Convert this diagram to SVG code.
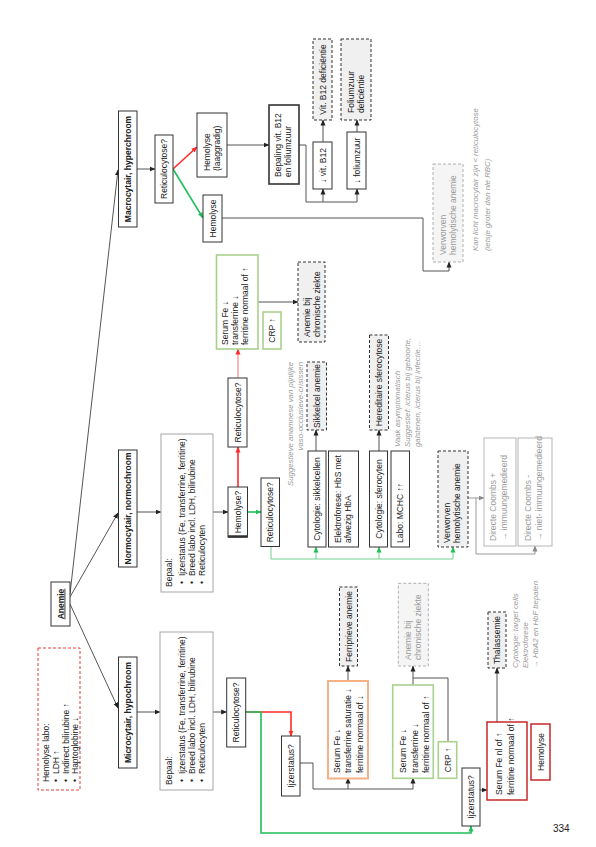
<svg xmlns="http://www.w3.org/2000/svg" width="596" height="847" viewBox="0 0 596 847">
<style>
.t{font-family:"Liberation Sans",Arial,sans-serif;font-size:8.5px;fill:#222}
.bd{font-weight:bold}
.gt{fill:#9a9a9a}
.nt{font-family:"Liberation Sans",Arial,sans-serif;font-size:7.8px;font-style:italic;fill:#9a9a9a}
.bx{fill:#fff;stroke:#333;stroke-width:1}
.bg{fill:#fff;stroke:#a6a6a6;stroke-width:1}
.dsh{fill:#f0f0f0;stroke:#333;stroke-width:1;stroke-dasharray:3 2}
.dshl{fill:#f5f5f5;stroke:#b0b0b0;stroke-width:1;stroke-dasharray:3 2}
.gb{fill:#fff;stroke:#a9d18e;stroke-width:1.6}
.ob{fill:#fff;stroke:#f4b183;stroke-width:2}
.rb{fill:#fff;stroke:#c62828;stroke-width:1.5}
.gl{fill:#fff;stroke:#b5b5b5;stroke-width:1}
.c{fill:none;stroke:#555;stroke-width:1}
.cg{fill:none;stroke:#9a9a9a;stroke-width:1}
.cr{fill:none;stroke:#ff2a2a;stroke-width:1.6}
.crl{fill:none;stroke:#f27070;stroke-width:1}
.cgr{fill:none;stroke:#1fbf5a;stroke-width:1.6}
.cgl{fill:none;stroke:#72cf8e;stroke-width:1}
</style>
<defs>
<marker id="ak" markerUnits="userSpaceOnUse" markerWidth="6" markerHeight="6" refX="5.5" refY="3" orient="auto"><path d="M0,0.5 L6,3 L0,5.5 z" fill="#222"/></marker>
<marker id="ar" markerUnits="userSpaceOnUse" markerWidth="6" markerHeight="6" refX="5.5" refY="3" orient="auto"><path d="M0,0.5 L6,3 L0,5.5 z" fill="#ff2a2a"/></marker>
<marker id="ag" markerUnits="userSpaceOnUse" markerWidth="6" markerHeight="6" refX="5.5" refY="3" orient="auto"><path d="M0,0.5 L6,3 L0,5.5 z" fill="#1fbf5a"/></marker>
<marker id="agr" markerUnits="userSpaceOnUse" markerWidth="6" markerHeight="6" refX="5.5" refY="3" orient="auto"><path d="M0,0.5 L6,3 L0,5.5 z" fill="#888"/></marker>
</defs>

<g id="connectors">
<path class="c" d="M70,594 L118,170" marker-end="url(#ak)"/>
<path class="c" d="M70,597 L118,513" marker-end="url(#ak)"/>
<path class="c" d="M70,604 L118,708" marker-end="url(#ak)"/>
<path class="c" d="M137,169 H155" marker-end="url(#ak)"/>
<path class="c" d="M137,512 H161" marker-end="url(#ak)"/>
<path class="c" d="M137,712 H160" marker-end="url(#ak)"/>
<path class="cr" d="M173,169 L197,147" marker-end="url(#ar)"/>
<path class="cgr" d="M173,169 L203,218" marker-end="url(#ag)"/>
<path class="c" d="M227,145 H269" marker-end="url(#ak)"/>
<path class="c" d="M299,145 H306 V202 H357 V189" marker-end="url(#ak)"/>
<path class="c" d="M323,202 V189" marker-end="url(#ak)"/>
<path class="c" d="M323,142 V120" marker-end="url(#ak)"/>
<path class="c" d="M357,132 V120" marker-end="url(#ak)"/>
<path class="c" d="M222,218 H423 V271 H449 V262" marker-end="url(#ak)"/>
<path class="c" d="M213,512 H228" marker-end="url(#ak)"/>
<path class="cr" d="M238,487 V447" marker-end="url(#ar)"/>
<path class="crl" d="M238,378 V349" marker-end="url(#ar)"/>
<path class="c" d="M258,302 H298" marker-end="url(#ak)"/>
<path class="cgr" d="M248,512 H261" marker-end="url(#ag)"/>
<path class="cgl" d="M271,547 V559 H453 V547" marker-end="url(#ag)"/>
<path class="cgl" d="M316,559 V547" marker-end="url(#ag)"/>
<path class="cgl" d="M379,559 V547" marker-end="url(#ag)"/>
<path class="c" d="M316,451 V430" marker-end="url(#ak)"/>
<path class="c" d="M379,451 V430" marker-end="url(#ak)"/>
<path class="cg" d="M468,498 H484" marker-end="url(#agr)"/>
<path class="cg" d="M476,498 V554 H535 V546" marker-end="url(#agr)"/>
<path class="c" d="M213,712 H226.7" marker-end="url(#ak)"/>
<path class="cr" d="M246,712 H291 V736" marker-end="url(#ar)"/>
<path class="cgr" d="M246,712 H261 V833 H471 V826" marker-end="url(#ag)"/>
<path class="c" d="M300,763 H313 V789 H413 V778" marker-end="url(#ak)"/>
<path class="c" d="M348,789 V778" marker-end="url(#ak)"/>
<path class="c" d="M348,681 V666" marker-end="url(#ak)"/>
<path class="c" d="M413,685 V666" marker-end="url(#ak)"/>
<path class="c" d="M448,742 V678 H413"/>
<path class="c" d="M480,790 H487" marker-end="url(#ak)"/>
<path class="c" d="M497,722 V668" marker-end="url(#ak)"/>
</g>

<g id="n-hemolabo">
<rect x="38" y="648" width="42" height="142" fill="#fff" stroke="#e03c3c" stroke-dasharray="3 2"/>
<text class="t" transform="translate(49,782) rotate(-90)">Hemolyse labo:</text>
<text class="t" transform="translate(59,782) rotate(-90)">•</text><text class="t" transform="translate(59,774) rotate(-90)">LDH ↑</text>
<text class="t" transform="translate(68.5,782) rotate(-90)">•</text><text class="t" transform="translate(68.5,774) rotate(-90)">Indirect bilirubine ↑</text>
<text class="t" transform="translate(78,782) rotate(-90)">•</text><text class="t" transform="translate(78,774) rotate(-90)">Haptoglobine ↓</text>
</g>

<g id="n-anemie">
<rect class="bx" x="51" y="582" width="19" height="44"/>
<text class="t bd" transform="translate(63.5,604) rotate(-90)" text-anchor="middle" text-decoration="underline">Anemie</text>
</g>

<g id="n-macro">
<rect class="bx" x="118.5" y="111" width="18.5" height="116"/>
<text class="t bd" transform="translate(130.8,169) rotate(-90)" text-anchor="middle">Macrocytair, hyperchroom</text>
</g>
<g id="n-normo">
<rect class="bx" x="118.5" y="450" width="18.5" height="117"/>
<text class="t bd" transform="translate(130.8,508.5) rotate(-90)" text-anchor="middle">Normocytair, normochroom</text>
</g>
<g id="n-micro">
<rect class="bx" x="118.5" y="657" width="18.5" height="111"/>
<text class="t bd" transform="translate(130.8,712.5) rotate(-90)" text-anchor="middle">Microcytair, hypochroom</text>
</g>

<g id="n-macro-retic">
<rect class="bx" x="155" y="135" width="18" height="68"/>
<text class="t" transform="translate(167,169) rotate(-90)" text-anchor="middle">Reticulocytose?</text>
</g>
<g id="n-macro-hemolyse-laag">
<rect class="bx" x="197" y="113" width="30" height="64"/>
<text class="t" transform="translate(209.5,171) rotate(-90)">Hemolyse</text>
<text class="t" transform="translate(219.5,171) rotate(-90)">(laaggradig)</text>
</g>
<g id="n-macro-hemolyse">
<rect class="bx" x="203" y="195" width="19" height="47"/>
<text class="t" transform="translate(215.5,218.5) rotate(-90)" text-anchor="middle">Hemolyse</text>
</g>
<g id="n-bepaling-b12">
<rect x="269" y="105" width="30" height="79" fill="#fff" stroke="#333" stroke-width="1.6"/>
<text class="t" transform="translate(281,177) rotate(-90)">Bepaling vit. B12</text>
<text class="t" transform="translate(291,177) rotate(-90)">en foliumzuur</text>
</g>
<g id="n-vitb12">
<rect class="bx" x="313" y="142" width="19" height="47"/>
<text class="t" transform="translate(325.5,165.5) rotate(-90)" text-anchor="middle">↓ vit. B12</text>
</g>
<g id="n-folium">
<rect class="bx" x="347" y="132" width="19" height="57"/>
<text class="t" transform="translate(359.5,160.5) rotate(-90)" text-anchor="middle">↓ foliumzuur</text>
</g>
<g id="n-vitb12-def">
<rect class="dsh" x="313" y="39" width="19" height="81"/>
<text class="t" transform="translate(325.5,79.5) rotate(-90)" text-anchor="middle">Vit. B12 deficiëntie</text>
</g>
<g id="n-folium-def">
<rect class="dsh" x="341" y="39" width="30" height="81"/>
<text class="t" transform="translate(354,113) rotate(-90)">Foliumzuur</text>
<text class="t" transform="translate(364,113) rotate(-90)">deficiëntie</text>
</g>
<g id="n-macro-verworven">
<rect class="dshl" x="433" y="164" width="30" height="98"/>
<text class="t gt" transform="translate(446,255) rotate(-90)">Verworven</text>
<text class="t gt" transform="translate(456,255) rotate(-90)">hemolytische anemie</text>
</g>
<g id="note-macro">
<text class="nt" transform="translate(478,251) rotate(-90)">Kan licht macrocytair zijn &lt; reticulocytose</text>
<text class="nt" transform="translate(489.5,251) rotate(-90)">(ietsje groter dan nle RBC)</text>
</g>

<g id="n-normo-bepaal">
<rect class="bg" x="161" y="434" width="52" height="158"/>
<text class="t" transform="translate(171.5,587) rotate(-90)">Bepaal:</text>
<text class="t" transform="translate(184.5,584) rotate(-90)">•</text><text class="t" transform="translate(184.5,576) rotate(-90)">Ijzerstatus (Fe, transferrine, ferritine)</text>
<text class="t" transform="translate(194.5,584) rotate(-90)">•</text><text class="t" transform="translate(194.5,576) rotate(-90)">Breed labo incl. LDH, bilirubine</text>
<text class="t" transform="translate(204.5,584) rotate(-90)">•</text><text class="t" transform="translate(204.5,576) rotate(-90)">Reticulocyten</text>
</g>
<g id="n-normo-hemolyse">
<rect class="bx" x="228" y="487" width="19.5" height="50"/>
<line x1="228" y1="536.5" x2="247.5" y2="536.5" stroke="#333" stroke-width="2.5"/>
<text class="t" transform="translate(240.8,512) rotate(-90)" text-anchor="middle">Hemolyse?</text>
</g>
<g id="n-normo-retic-red">
<rect class="bx" x="228" y="378" width="19" height="69"/>
<text class="t" transform="translate(240.5,412.5) rotate(-90)" text-anchor="middle">Reticulocytose?</text>
</g>
<g id="n-normo-serum">
<rect class="gb" x="216.5" y="255" width="41.5" height="94"/>
<text class="t" transform="translate(228,345) rotate(-90)">Serum Fe ↓</text>
<text class="t" transform="translate(238,345) rotate(-90)">transferrine ↓</text>
<text class="t" transform="translate(248,345) rotate(-90)">ferritine normaal of ↑</text>
</g>
<g id="n-normo-crp">
<rect class="gb" x="263" y="312" width="18" height="37"/>
<text class="t" transform="translate(275,330.5) rotate(-90)" text-anchor="middle">CRP ↑</text>
</g>
<g id="n-normo-acz">
<rect class="dsh" x="298" y="262" width="27" height="80"/>
<text class="t" transform="translate(309.5,337) rotate(-90)">Anemie bij</text>
<text class="t" transform="translate(319.5,337) rotate(-90)">chronische ziekte</text>
</g>
<g id="n-normo-retic-green">
<rect class="bx" x="261" y="478" width="18.5" height="68.5"/>
<text class="t" transform="translate(273.3,512.3) rotate(-90)" text-anchor="middle">Reticulocytose?</text>
</g>
<g id="n-sikkel-cyto">
<rect class="bx" x="308" y="451" width="18" height="96"/>
<text class="t" transform="translate(320,499) rotate(-90)" text-anchor="middle">Cytologie: sikkelcellen</text>
</g>
<g id="n-elektro">
<rect class="bx" x="328.5" y="451" width="30" height="96"/>
<text class="t" transform="translate(340.5,543) rotate(-90)">Elektroforese: HbS met</text>
<text class="t" transform="translate(351,543) rotate(-90)">afwezig HbA</text>
</g>
<g id="n-sfero-cyto">
<rect class="bx" x="369.5" y="451" width="18" height="96"/>
<text class="t" transform="translate(381.5,499) rotate(-90)" text-anchor="middle">Cytologie: sferocyten</text>
</g>
<g id="n-mchc">
<rect class="bx" x="391" y="451" width="18.5" height="96"/>
<text class="t" transform="translate(403.3,543) rotate(-90)">Labo: MCHC ↑↑</text>
</g>
<g id="n-normo-verworven">
<rect class="dsh" x="438" y="451" width="30" height="96"/>
<text class="t" transform="translate(450,543) rotate(-90)">Verworven</text>
<text class="t" transform="translate(460,543) rotate(-90)">hemolytische anemie</text>
</g>
<g id="n-sikkel">
<rect class="dsh" x="307" y="362" width="19.5" height="68"/>
<text class="t" transform="translate(319.8,396) rotate(-90)" text-anchor="middle">Sikkelcel anemie</text>
</g>
<g id="n-sfero">
<rect class="dsh" x="369.5" y="335" width="19" height="95"/>
<text class="t" transform="translate(382,382.5) rotate(-90)" text-anchor="middle">Hereditaire sferocytose</text>
</g>
<g id="note-sikkel">
<text class="nt" transform="translate(293,362) rotate(-90)" text-anchor="end">Suggestieve anamnese van pijnlijke</text>
<text class="nt" transform="translate(303,362) rotate(-90)" text-anchor="end">vaso-occlusieve-crisissen</text>
</g>
<g id="note-sfero">
<text class="nt" transform="translate(399.5,447) rotate(-90)">Vaak asymptomatisch</text>
<text class="nt" transform="translate(409.5,447) rotate(-90)">Suggestief: icterus bij geboorte,</text>
<text class="nt" transform="translate(419.5,447) rotate(-90)">galstenen, icterus bij infectie…</text>
</g>
<g id="n-coombs-pos">
<rect class="gl" x="484" y="438" width="32" height="108"/>
<text class="t gt" transform="translate(496,541) rotate(-90)">Directe Coombs +</text>
<text class="t gt" transform="translate(507,541) rotate(-90)">→ immuungemedieerd</text>
</g>
<g id="n-coombs-neg">
<rect class="gl" x="518" y="438" width="34" height="108"/>
<text class="t gt" transform="translate(531,541) rotate(-90)">Directe Coombs -</text>
<text class="t gt" transform="translate(542,541) rotate(-90)">→ niet- immuungemedieerd</text>
</g>

<g id="n-micro-bepaal">
<rect class="bg" x="160" y="632" width="53" height="158"/>
<text class="t" transform="translate(171.5,785) rotate(-90)">Bepaal:</text>
<text class="t" transform="translate(184.5,782) rotate(-90)">•</text><text class="t" transform="translate(184.5,774) rotate(-90)">Ijzerstatus (Fe, transferrine, ferritine)</text>
<text class="t" transform="translate(194.5,782) rotate(-90)">•</text><text class="t" transform="translate(194.5,774) rotate(-90)">Breed labo incl. LDH, bilirubine</text>
<text class="t" transform="translate(204.5,782) rotate(-90)">•</text><text class="t" transform="translate(204.5,774) rotate(-90)">Reticulocyten</text>
</g>
<g id="n-micro-retic">
<rect class="bx" x="226.7" y="678" width="19" height="69"/>
<text class="t" transform="translate(239.2,712.5) rotate(-90)" text-anchor="middle">Reticulocytose?</text>
</g>
<g id="n-micro-ijzer1">
<rect class="bx" x="281.5" y="736" width="18.5" height="60"/>
<text class="t" transform="translate(293.8,766) rotate(-90)" text-anchor="middle">Ijzerstatus?</text>
</g>
<g id="n-micro-ferri-serum">
<rect class="ob" x="328" y="681" width="40" height="97.5"/>
<text class="t" transform="translate(339.7,773) rotate(-90)">Serum Fe ↓</text>
<text class="t" transform="translate(351.3,773) rotate(-90)">transferrine saturatie ↓</text>
<text class="t" transform="translate(363,773) rotate(-90)">ferritine normaal of ↓</text>
</g>
<g id="n-ferriprieve">
<rect class="dsh" x="339.5" y="587" width="18" height="79"/>
<text class="t" transform="translate(351.5,626.5) rotate(-90)" text-anchor="middle">Ferriprieve anemie</text>
</g>
<g id="n-micro-serum">
<rect class="gb" x="392.7" y="685" width="40.6" height="93.3"/>
<text class="t" transform="translate(406,773) rotate(-90)">Serum Fe ↓</text>
<text class="t" transform="translate(417.5,773) rotate(-90)">transferrine ↓</text>
<text class="t" transform="translate(429,773) rotate(-90)">ferritine normaal of ↑</text>
</g>
<g id="n-micro-crp">
<rect class="gb" x="438.3" y="741.7" width="18.4" height="36.6"/>
<text class="t" transform="translate(450.5,760) rotate(-90)" text-anchor="middle">CRP ↑</text>
</g>
<g id="n-micro-acz">
<rect class="dshl" x="398.3" y="583.3" width="30" height="82.7"/>
<text class="t gt" transform="translate(411,660) rotate(-90)">Anemie bij</text>
<text class="t gt" transform="translate(421,660) rotate(-90)">chronische ziekte</text>
</g>
<g id="n-micro-ijzer2">
<rect class="bx" x="462" y="768" width="18" height="58"/>
<text class="t" transform="translate(474,797) rotate(-90)" text-anchor="middle">Ijzerstatus?</text>
</g>
<g id="n-micro-red-serum">
<rect class="rb" x="487" y="722" width="40" height="78"/>
<text class="t" transform="translate(502,795) rotate(-90)">Serum Fe nl of ↑</text>
<text class="t" transform="translate(514,795) rotate(-90)">ferritine normaal of ↑</text>
</g>
<g id="n-micro-hemolyse">
<rect class="rb" x="531" y="724" width="19" height="56"/>
<text class="t" transform="translate(543.5,752) rotate(-90)" text-anchor="middle">Hemolyse</text>
</g>
<g id="n-thal">
<rect class="dsh" x="488" y="612" width="18" height="56"/>
<text class="t" transform="translate(500,640) rotate(-90)" text-anchor="middle">Thalassemie</text>
</g>
<g id="note-thal">
<text class="nt" transform="translate(518,668) rotate(-90)">Cytologie: target cells</text>
<text class="nt" transform="translate(528,668) rotate(-90)">Elektroforese</text>
<text class="nt" transform="translate(538,668) rotate(-90)">→ HbA2 en HbF bepalen</text>
</g>

<text id="page-number" x="553" y="832" font-family="Liberation Sans, Arial, sans-serif" font-size="10" fill="#222">334</text>
</svg>
